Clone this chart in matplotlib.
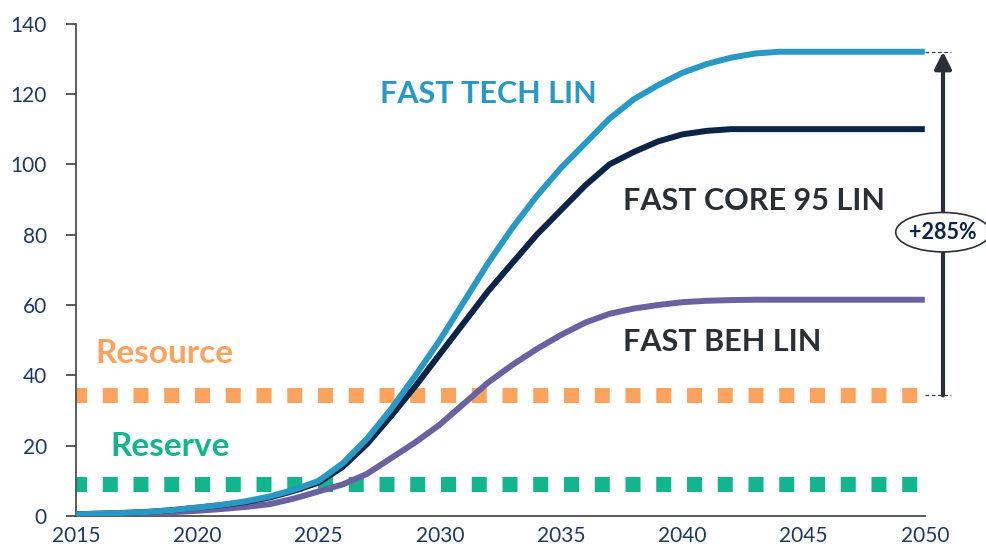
import numpy as np
import matplotlib.pyplot as plt
from matplotlib.patches import Ellipse

# Scenario trajectories (cumulative demand, same unit as the y axis)
years = np.arange(2015, 2051)

fast_tech_lin = [0.5, 0.7, 0.9, 1.2, 1.7, 2.4, 3.2, 4.2, 5.6, 7.5,
                 10.0, 15.0, 22.0, 30.5, 40.0, 50.0, 61.0, 72.0, 82.0, 91.0,
                 99.0, 106.0, 113.0, 118.5, 122.5, 126.0, 128.5, 130.3, 131.5, 132.0,
                 132.0, 132.0, 132.0, 132.0, 132.0, 132.0]

fast_core_95_lin = [0.5, 0.7, 0.9, 1.2, 1.7, 2.4, 3.1, 4.0, 5.3, 7.2,
                    9.5, 14.0, 20.5, 28.5, 37.0, 46.0, 55.0, 64.0, 72.0, 80.0,
                    87.0, 94.0, 100.0, 103.5, 106.5, 108.5, 109.5, 110.0, 110.0, 110.0,
                    110.0, 110.0, 110.0, 110.0, 110.0, 110.0]

fast_beh_lin = [0.5, 0.6, 0.7, 0.9, 1.1, 1.5, 2.0, 2.6, 3.4, 5.0,
                7.0, 9.0, 12.0, 16.5, 21.0, 26.0, 32.0, 38.0, 43.0, 47.5,
                51.5, 55.0, 57.5, 59.0, 60.0, 60.8, 61.2, 61.4, 61.5, 61.5,
                61.5, 61.5, 61.5, 61.5, 61.5, 61.5]

resource = 34.3
reserve = 9.2
growth_label = '+285%'

x_ticks = [2015, 2020, 2025, 2030, 2035, 2040, 2045, 2050]
y_ticks = [0, 20, 40, 60, 80, 100, 120, 140]

# Colours
C_TECH = '#2899c4'
C_CORE = '#0b2447'
C_BEH = '#6a62a0'
C_RES = '#fba35f'
C_RSV = '#13b58f'
C_TICK = '#1f3a5f'
C_TEXT = '#2a2e35'

plt.rcParams['font.family'] = ['Lato', 'DejaVu Sans']

fig = plt.figure(figsize=(9.87, 5.49), dpi=100)
ax = fig.add_axes([0.077, 0.060, 0.860, 0.897])

# Resource / reserve levels as thick square-dotted lines
ax.plot([2015, 2050], [resource, resource], color=C_RES, lw=10.8,
        linestyle=(0.3, (1, 1.05)), solid_capstyle='butt', dash_capstyle='butt', zorder=1)
ax.plot([2015, 2050], [reserve, reserve], color=C_RSV, lw=10.8,
        linestyle=(0.3, (1, 1.05)), solid_capstyle='butt', dash_capstyle='butt', zorder=1)

ax.plot(years, fast_beh_lin, color=C_BEH, lw=4.3, solid_capstyle='butt', zorder=3)
ax.plot(years, fast_core_95_lin, color=C_CORE, lw=4.3, solid_capstyle='butt', zorder=4)
ax.plot(years, fast_tech_lin, color=C_TECH, lw=4.3, solid_capstyle='butt', zorder=5)

ax.set_xlim(2015, 2050)
ax.set_ylim(0, 140)
ax.set_xticks(x_ticks)
ax.set_yticks(y_ticks)

for s in ['top', 'right']:
    ax.spines[s].set_visible(False)
for s in ['left', 'bottom']:
    ax.spines[s].set_color('#404040')
    ax.spines[s].set_linewidth(1.2)

ax.tick_params(axis='y', length=7, width=1.2, color='#404040', labelsize=15,
               labelcolor=C_TICK, pad=14)
ax.tick_params(axis='x', length=0, labelsize=15, labelcolor=C_TICK, pad=7)

# Scenario labels
ax.text(2027.53, 120.0, 'FAST TECH LIN', color=C_TECH, fontsize=22, fontweight='bold',
        ha='left', va='center')
ax.text(2037.55, 89.6, 'FAST CORE 95 LIN', color=C_TEXT, fontsize=22, fontweight='bold',
        ha='left', va='center')
ax.text(2037.55, 49.6, 'FAST BEH LIN', color=C_TEXT, fontsize=22, fontweight='bold',
        ha='left', va='center')
ax.text(2015.78, 46.2, 'Resource', color=C_RES, fontsize=24, fontweight='bold',
        ha='left', va='center')
ax.text(2016.4, 19.7, 'Reserve', color=C_RSV, fontsize=24, fontweight='bold',
        ha='left', va='center')

# Growth arrow from resource level to the top trajectory
xa = 2050.75
top = fast_tech_lin[-1]
ax.plot([2050, 2051.1], [top, top], color='#404040', lw=0.9, ls=(0, (3, 2)), clip_on=False)
ax.plot([2050, 2051.1], [resource, resource], color='#404040', lw=0.9, ls=(0, (3, 2)), clip_on=False)
ax.annotate('', xy=(xa, top), xytext=(xa, resource), annotation_clip=False,
            arrowprops=dict(arrowstyle='-|>,head_length=1.0,head_width=0.5',
                            color='#2b2f3a', lw=3, shrinkA=0, shrinkB=0))
ax.add_patch(Ellipse((xa, 80.7), 3.9, 11.2, facecolor='white', edgecolor='#2b2f3a',
                     lw=1.2, clip_on=False, zorder=6))
ax.text(xa, 80.7, growth_label, color=C_CORE, fontsize=15.5, fontweight='bold',
        ha='center', va='center', zorder=7, clip_on=False)

fig.savefig('out.png', dpi=100)
